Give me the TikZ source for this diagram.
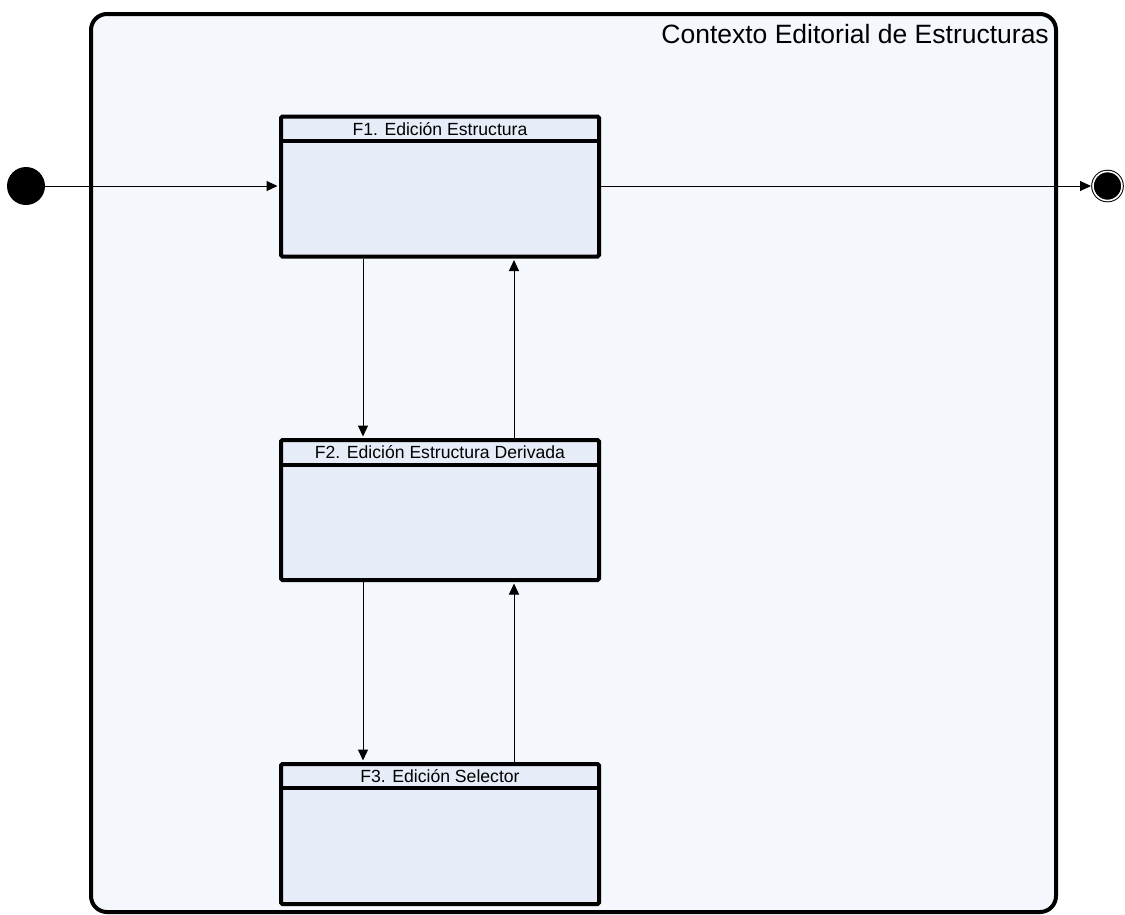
\documentclass[tikz,border=0pt]{standalone}
\usepackage{fontspec}
\setmainfont{Liberation Sans}
\usetikzlibrary{arrows.meta,calc}
\definecolor{ctxfill}{HTML}{F4F7FC}
\definecolor{statefill}{HTML}{E6EDF8}
\tikzset{
  context/.style={draw=black, line width=4pt, fill=ctxfill, rounded corners=16pt,
    inner sep=0pt, minimum width=965pt, minimum height=898pt},
  statebox/.style={draw=black, line width=4pt, fill=statefill, rounded corners=1.5pt,
    inner sep=0pt, minimum width=318pt, minimum height=140pt},
  headtext/.style={font=\fontsize{17.6}{20}\selectfont, anchor=base, inner sep=0pt},
  divider/.style={line width=4pt},
  flow/.style={line width=1pt, -{Triangle[length=11pt,width=10pt]}, shorten >=1.5pt},
  initial/.style={circle, fill=black, inner sep=0pt, minimum size=38pt},
  final/.style={circle, fill=black, draw=black, line width=1pt, double=white,
    double distance=1.6pt, inner sep=0pt, minimum size=29pt}
}
\begin{document}
\begin{tikzpicture}[x=1pt,y=-1pt]
\useasboundingbox (0,0) rectangle (1125,914);

% enclosing composite state
\node[context] (ctx) at (573.5,463) {};
\node[font=\fontsize{26.5}{30}\selectfont, anchor=base east, inner sep=0pt] (ctxtitle) at (1049,43) {Contexto Editorial de Estructuras};

% sub-states
\node[statebox] (f1) at (440,186.5) {};
\node[statebox] (f2) at (440,510) {};
\node[statebox] (f3) at (440,834) {};

\draw[divider] ($(f1.north west)+(0,26)$) -- ($(f1.north east)+(0,26)$);
\draw[divider] ($(f2.north west)+(0,27)$) -- ($(f2.north east)+(0,27)$);
\draw[divider] ($(f3.north west)+(0,26)$) -- ($(f3.north east)+(0,26)$);

\node[headtext] (f1title) at ($(f1.north)+(0,20.5)$) {F1. Edición Estructura};
\node[headtext] (f2title) at ($(f2.north)+(0,20.5)$) {F2. Edición Estructura Derivada};
\node[headtext] (f3title) at ($(f3.north)+(0,20.5)$) {F3. Edición Selector};

% pseudo-states
\node[initial] (start) at (26,186) {};
\node[final] (stop) at (1107.5,186) {};

% transitions
\draw[flow] (start) -- (start -| f1.west);
\draw[flow] (f1.east |- start) -- (stop.west);
\draw[flow] ($(f1.south west)+(84,0)$) -- ($(f2.north west)+(84,0)$);
\draw[flow] ($(f2.north west)+(235,0)$) -- ($(f1.south west)+(235,0)$);
\draw[flow] ($(f2.south west)+(84,0)$) -- ($(f3.north west)+(84,0)$);
\draw[flow] ($(f3.north west)+(235,0)$) -- ($(f2.south west)+(235,0)$);
\end{tikzpicture}
\end{document}
